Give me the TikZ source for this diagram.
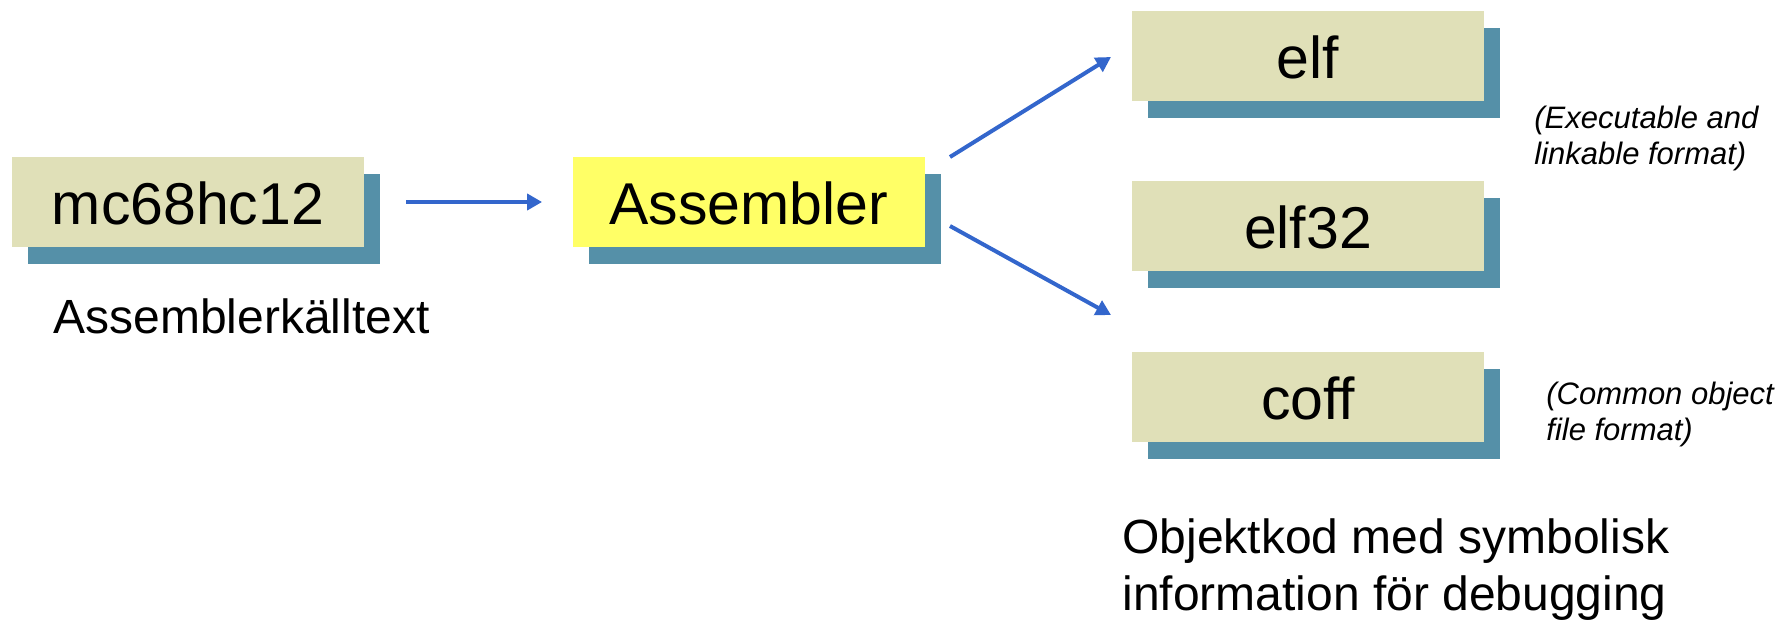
\documentclass[tikz,border=0pt]{standalone}
\usepackage{fontspec}
\setmainfont{Liberation Sans}
\usetikzlibrary{shadows,arrows.meta}
\definecolor{boxfill}{RGB}{224,224,184}
\definecolor{shadowc}{RGB}{85,144,168}
\definecolor{asmfill}{RGB}{255,255,102}
\definecolor{arrowc}{RGB}{51,102,204}
\tikzset{
  box/.style={fill=boxfill, draw=none, inner sep=0pt,
    minimum width=176pt, minimum height=45pt, text height=22.5pt, text depth=0pt,
    font=\fontsize{29.5}{35}\selectfont,
    general shadow={fill=shadowc, shadow xshift=8pt, shadow yshift=-8.3pt}},
  caption/.style={inner sep=0pt, font=\fontsize{24}{28.5}\selectfont, align=left},
  note/.style={inner sep=0pt, font=\itshape\fontsize{15.5}{18}\selectfont, align=left},
  arr/.style={draw=arrowc, line width=2pt, -{Triangle[length=7.5pt,width=8pt]}}
}
\begin{document}
\begin{tikzpicture}[x=0.5pt,y=-0.5pt]
\useasboundingbox (0,0) rectangle (1788,620);

% source and assembler
\node[box] (src) at (188,202) {mc68hc12};
\node[box, fill=asmfill] (asm) at (748.5,202) {Assembler};
\node[caption, anchor=base west] (srclbl) at (53,333) {Assemblerkälltext};

% object formats
\node[box] (elf) at (1308,56) {elf};
\node[box] (elf32) at (1308,226) {elf32};
\node[box] (coff) at (1308,397) {coff};

\node[note, anchor=base west] (elfnote) at (1534,165)
  {(Executable and\\linkable format)};
\node[note, anchor=base west] (coffnote) at (1546,440)
  {(Common object\\file format)};
\node[caption, anchor=base west] (objlbl) at (1122,610)
  {Objektkod med symbolisk\\information för debugging};

% connectors
\coordinate (up0) at (950,157);
\coordinate (up1) at (1111,57);
\coordinate (dn0) at (950,226);
\coordinate (dn1) at (1111,315);
\draw[arr, shorten <=21pt, shorten >=15pt] (src.east) -- (asm.west);
\draw[arr] (up0) -- (up1);
\draw[arr] (dn0) -- (dn1);
\end{tikzpicture}
\end{document}
